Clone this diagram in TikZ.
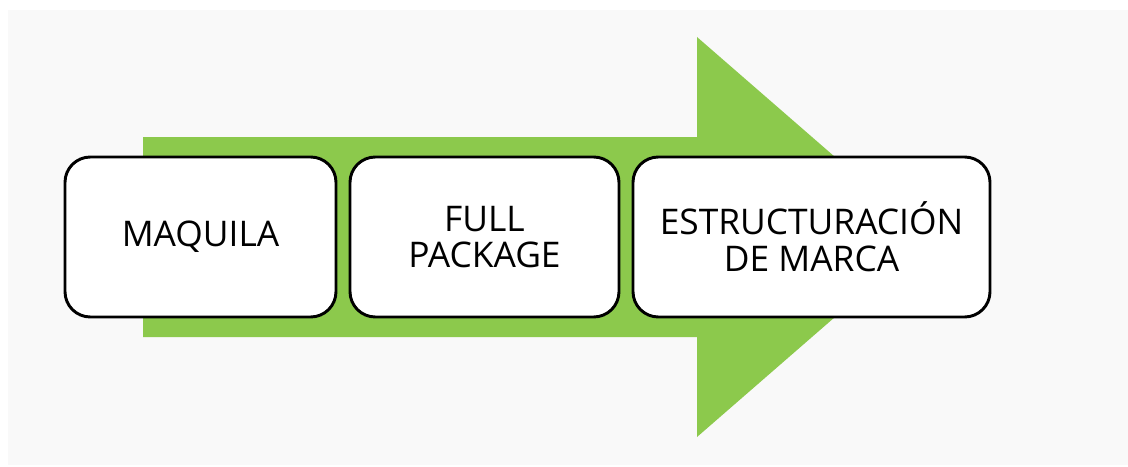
\documentclass[tikz,border=0pt]{standalone}
\usepackage{fontspec}
\setmainfont{Open Sans}
\definecolor{bggray}{HTML}{F9F9F9}
\definecolor{arrowgreen}{HTML}{8CC94C}
\tikzset{
  stepbox/.style={draw=black, line width=2.2pt, rounded corners=19pt, fill=white,
    inner sep=0pt, align=center, minimum height=160*0.75pt,
    font=\fontsize{26.5}{27.5}\selectfont, text=black}
}
\begin{document}
\begin{tikzpicture}[x=0.75pt,y=-0.75pt]
\useasboundingbox (0,0) rectangle (1128,467);
\fill[white] (0,0) rectangle (1128,467);
\fill[bggray] (8,10) rectangle (1128,465);
\fill[arrowgreen] (143,137) -- (697,137) -- (697,37) -- (927,237) -- (697,437) -- (697,337) -- (143,337) -- cycle;
\node[stepbox, minimum width=271*0.75pt] (maquila) at (200.5,237) {MAQUILA};
\node[stepbox, minimum width=269*0.75pt] (full) at (484.5,237) {FULL\\PACKAGE};
\node[stepbox, minimum width=357*0.75pt] (marca) at (811.5,237) {ESTRUCTURACIÓN\\DE MARCA};
\end{tikzpicture}
\end{document}
